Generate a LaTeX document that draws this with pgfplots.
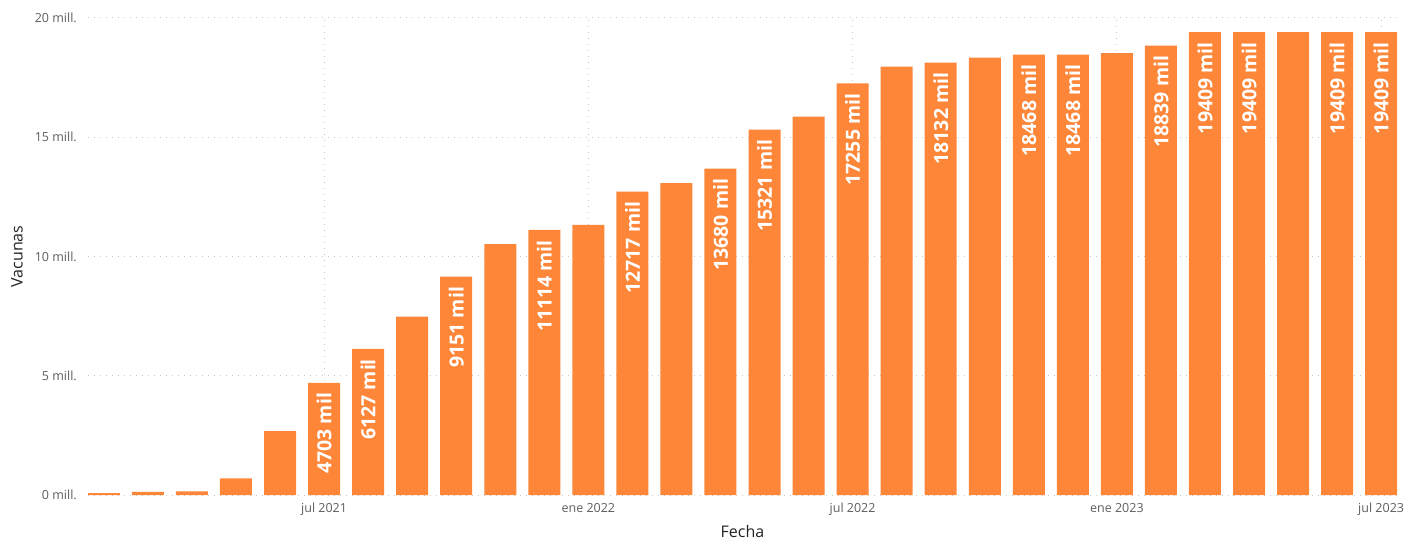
\documentclass[border=0pt]{standalone}
\usepackage{pgfplots}
\pgfplotsset{compat=1.18}
\usepackage{fontspec}
\setmainfont{Open Sans}
\definecolor{barc}{RGB}{253,134,57}
\definecolor{tickc}{RGB}{96,94,92}
\definecolor{ttlc}{RGB}{37,36,35}
\definecolor{gridc}{RGB}{200,200,200}
\begin{document}
\begin{tikzpicture}[x=1pt,y=1pt]
\path[use as bounding box] (0,0) rectangle (1405,539);
\begin{axis}[
  at={(88pt,44pt)}, anchor=south west,
  scale only axis, width=1309pt, height=477pt,
  xmin=-0.36, xmax=29.36, ymin=0, ymax=20000000,
  axis line style={draw=none},
  tick style={draw=none},
  ytick={0,5000000,10000000,15000000,20000000},
  yticklabels={0 mill.,5 mill.,10 mill.,15 mill.,20 mill.},
  xtick={5,11,17,23,29},
  xticklabels={jul 2021,ene 2022,jul 2022,ene 2023,jul 2023},
  grid=major,
  major grid style={gridc, line width=1pt, dash pattern=on 1pt off 5pt},
  ticklabel style={font=\fontsize{12.5}{14}\selectfont, text=tickc},
  yticklabel style={anchor=east, inner sep=0pt, xshift=-11pt},
  xticklabel style={anchor=base, inner sep=0pt, yshift=-17.5pt},
  xlabel={Fecha}, ylabel={Vacunas},
  every axis x label/.style={at={(axis description cs:0.5,-0.0755)}, anchor=center, font=\fontsize{16}{18}\selectfont, text=ttlc},
  every axis y label/.style={at={(axis description cs:-0.0542,0.5)}, anchor=center, rotate=90, font=\fontsize{16}{18}\selectfont, text=ttlc},
  scaled y ticks=false,
]
\addplot[ybar, bar width=32pt, bar shift=0pt, fill=barc, draw=none,
  nodes near coords, point meta=explicit symbolic,
  every node near coord/.style={yshift=-10pt, rotate=90, anchor=east, inner sep=0pt, text=white, font=\bfseries\fontsize{19.5}{21}\selectfont}]
table[col sep=comma, row sep=\\, x=x, y=y, meta=lab] {
x,y,lab\\
0,80000,\\
1,130000,\\
2,150000,\\
3,700000,\\
4,2680000,\\
5,4703000,4703 mil\\
6,6127000,6127 mil\\
7,7480000,\\
8,9151000,9151 mil\\
9,10520000,\\
10,11114000,11114 mil\\
11,11330000,\\
12,12717000,12717 mil\\
13,13080000,\\
14,13680000,13680 mil\\
15,15321000,15321 mil\\
16,15860000,\\
17,17255000,17255 mil\\
18,17960000,\\
19,18132000,18132 mil\\
20,18340000,\\
21,18468000,18468 mil\\
22,18468000,18468 mil\\
23,18530000,\\
24,18839000,18839 mil\\
25,19409000,19409 mil\\
26,19409000,19409 mil\\
27,19409000,\\
28,19409000,19409 mil\\
29,19409000,19409 mil\\
};
\end{axis}
\end{tikzpicture}
\end{document}
